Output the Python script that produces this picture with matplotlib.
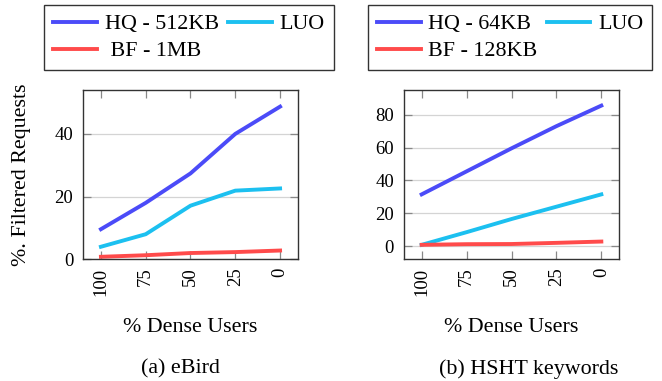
import matplotlib
matplotlib.use('Agg')
import matplotlib.pyplot as plt

plt.rcParams['font.family'] = ['Liberation Serif', 'DejaVu Serif']

dense_users = [100, 75, 50, 25, 0]
tick_labels = ['100', '75', '50', '25', '0']

# (a) eBird
ebird_hq = [9.6, 18.0, 27.4, 40.0, 48.7]
ebird_luo = [4.0, 8.0, 17.1, 21.9, 22.6]
ebird_bf = [0.8, 1.3, 2.0, 2.3, 2.8]

# (b) HSHT keywords
hsht_hq = [31.5, 45.5, 59.5, 73.0, 85.5]
hsht_luo = [0.8, 8.5, 16.5, 24.0, 31.5]
hsht_bf = [0.8, 1.2, 1.3, 2.0, 2.8]

c_hq = '#4B4BF8'
c_luo = '#1CC0F0'
c_bf = '#FF4B4B'
lw = 2.8
fs = 15.8

W, H = 662, 381
fig = plt.figure(figsize=(W / 100, H / 100), dpi=100)


def px(x0, y0, x1, y1):
    return [x0 / W, 1 - y1 / H, (x1 - x0) / W, (y1 - y0) / H]


def style(ax, ylim, yticks):
    ax.set_xlim(110, -10)
    ax.set_ylim(*ylim)
    ax.set_xticks(dense_users)
    ax.set_xticklabels(tick_labels, rotation=90, va='top', ha='center')
    ax.set_yticks(yticks)
    ax.grid(axis='y', color='#d4d4d4', lw=0.9)
    ax.set_axisbelow(True)
    ax.tick_params(direction='in', length=6, width=0.9, color='#888888',
                   top=True, right=True, labelsize=13.5, pad=6)
    ax.tick_params(axis='y', pad=7)
    for s in ax.spines.values():
        s.set_color('#333333')
        s.set_linewidth(1.0)


ax1 = fig.add_axes(px(83, 90, 298, 259.3))
h1, = ax1.plot(dense_users, ebird_hq, color=c_hq, lw=lw)
h2, = ax1.plot(dense_users, ebird_luo, color=c_luo, lw=lw)
h3, = ax1.plot(dense_users, ebird_bf, color=c_bf, lw=lw)
style(ax1, (0, 54), [0, 20, 40])

ax2 = fig.add_axes(px(403.7, 90, 619.3, 259.3))
g1, = ax2.plot(dense_users, hsht_hq, color=c_hq, lw=lw)
g2, = ax2.plot(dense_users, hsht_luo, color=c_luo, lw=lw)
g3, = ax2.plot(dense_users, hsht_bf, color=c_bf, lw=lw)
style(ax2, (-8, 95), [0, 20, 40, 60, 80])

leg_kw = dict(ncol=2, loc='upper left', fontsize=fs, frameon=True, fancybox=False,
              edgecolor='black', handlelength=2.0, handletextpad=0.35,
              columnspacing=0.4, labelspacing=0.3, borderpad=0.42,
              borderaxespad=0)
l1 = fig.legend([h1, h3, h2], ['HQ - 512KB', ' BF - 1MB', 'LUO'],
                bbox_to_anchor=(44 / W, 1 - 4.7 / H), **leg_kw)
l1.get_frame().set_linewidth(1.0)
l2 = fig.legend([g1, g3, g2], ['HQ - 64KB', 'BF - 128KB', 'LUO'],
                bbox_to_anchor=(367.7 / W, 1 - 4.7 / H), **leg_kw)
l2.get_frame().set_linewidth(1.0)

fig.text(22 / W, 1 - 175 / H, '%. Filtered Requests', rotation=90,
         ha='center', va='center', fontsize=fs)
fig.text(190 / W, 1 - 327 / H, '% Dense Users', ha='center', va='center', fontsize=fs)
fig.text(511 / W, 1 - 327 / H, '% Dense Users', ha='center', va='center', fontsize=fs)
fig.text(180 / W, 1 - 369 / H, '(a) eBird', ha='center', va='center', fontsize=fs)
fig.text(529 / W, 1 - 369 / H, '(b) HSHT keywords', ha='center', va='center', fontsize=fs)

fig.savefig('out.png', dpi=100)
